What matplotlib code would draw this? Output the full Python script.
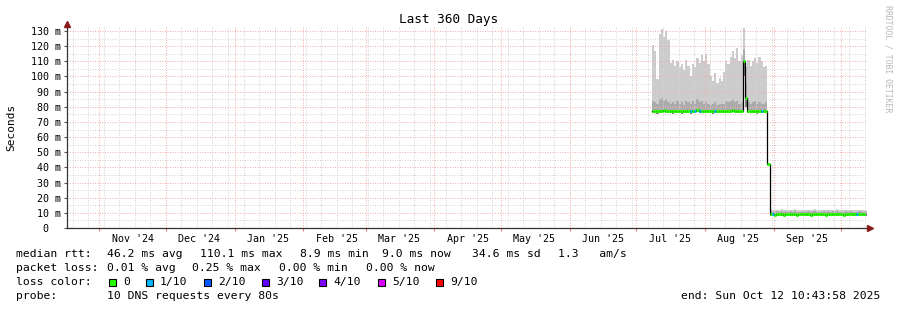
import numpy as np
import pandas as pd
import matplotlib
matplotlib.use('Agg')
import matplotlib.pyplot as plt
import matplotlib.dates as mdates
from matplotlib.patches import Rectangle

plt.rcParams['font.family'] = ['DejaVu Sans Mono', 'DejaVu Sans']

W, H = 897, 310

# --- data ---
t_start = pd.Timestamp('2024-10-17 10:43:58')
t_end = pd.Timestamp('2025-10-12 10:43:58')
days = pd.date_range('2025-07-08', '2025-10-12', freq='D')  # one sample per day

# Jul 8 - Aug 28 (around 77 ms)
hi_a = [121, 117, 98, 128, 131, 126, 130, 124,
        109, 111, 107, 110, 106, 108, 104, 111,
        107, 100, 108, 106, 112, 109, 114, 110,
        115, 108, 100, 97, 102, 96, 99, 97,
        103, 110, 108, 113, 117, 112, 119, 110,
        114, 132, 106, 111, 107, 110, 112, 109,
        113, 110, 106, 107]
q_a = [84, 83, 82, 85, 86, 84, 85, 83,
       82, 83, 82, 84, 82, 83, 81, 84,
       83, 82, 84, 82, 85, 83, 84, 82,
       83, 82, 81, 82, 83, 81, 82, 82,
       82, 84, 83, 84, 85, 83, 84, 82,
       83, 118, 96, 83, 82, 83, 84, 82,
       83, 82, 82, 83]
med_a = [77.5, 77.5, 77.0, 77.5, 77.5, 78.0, 77.5, 77.5,
         77.5, 77.0, 77.5, 77.5, 77.5, 77.0, 77.5, 77.5,
         77.5, 77.0, 77.5, 77.5, 78.0, 77.5, 77.5, 77.5,
         77.5, 77.5, 77.5, 77.0, 77.5, 77.5, 77.5, 77.5,
         77.5, 77.5, 77.5, 77.5, 78.0, 77.5, 77.5, 77.5,
         77.5, 110.0, 86.0, 77.5, 77.5, 77.5, 77.5, 77.0,
         77.5, 77.5, 77.5, 77.5]
lo_a = [76.0, 76.0, 75.5, 76.0, 76.0, 76.5, 76.0, 76.0,
        76.0, 75.5, 76.0, 76.0, 76.0, 75.5, 76.0, 76.0,
        76.0, 75.5, 76.0, 76.0, 76.5, 76.0, 76.0, 76.0,
        76.0, 76.0, 76.0, 75.5, 76.0, 76.0, 76.0, 76.0,
        76.0, 76.0, 76.0, 76.0, 76.5, 76.0, 76.0, 76.0,
        76.0, 100.0, 80.0, 76.0, 76.0, 76.0, 76.0, 75.5,
        76.0, 76.0, 76.0, 76.0]
loss_a = [0, 0, 0, 0, 0, 0, 0, 0,
          0, 0, 0, 0, 0, 0, 0, 0,
          0, 1, 0, 1, 0, 1, 0, 0,
          0, 0, 0, 0, 1, 0, 0, 0,
          0, 0, 0, 0, 0, 0, 0, 0,
          0, 0, 0, 0, 0, 0, 0, 0,
          0, 1, 0, 0]

# Aug 29: the drop
hi_b = [42.0]
q_b = [42.0]
med_b = [42.0]
lo_b = [42.0]
loss_b = [0]

# Aug 30 - Oct 12 (around 9 ms)
hi_c = [12.5, 12.0, 11.8, 12.2, 11.9, 12.4, 11.7, 12.0,
        11.8, 12.1, 11.9, 12.3, 11.6, 12.0, 11.8, 12.2,
        11.9, 12.0, 11.7, 12.1, 12.3, 11.8, 12.0, 11.9,
        12.2, 11.7, 12.0, 11.8, 12.1, 11.9, 12.4, 11.8,
        12.0, 11.7, 12.1, 11.9, 12.2, 11.8, 12.0, 11.9,
        12.1, 11.8, 12.0, 11.9]
q_c = [11.0, 10.8, 10.7, 11.0, 10.8, 11.1, 10.6, 10.9,
       10.7, 10.9, 10.8, 11.0, 10.6, 10.8, 10.7, 11.0,
       10.8, 10.9, 10.6, 10.9, 11.0, 10.7, 10.8, 10.8,
       11.0, 10.6, 10.9, 10.7, 10.9, 10.8, 11.1, 10.7,
       10.8, 10.6, 10.9, 10.8, 11.0, 10.7, 10.8, 10.8,
       10.9, 10.7, 10.8, 10.8]
med_c = [9.0, 9.0, 8.9, 9.1, 9.0, 9.1, 8.9, 9.0,
         9.0, 9.1, 9.0, 9.1, 8.9, 9.0, 9.0, 9.1,
         9.0, 9.0, 8.9, 9.0, 9.1, 9.0, 9.0, 9.0,
         9.1, 8.9, 9.0, 9.0, 9.1, 9.0, 9.1, 9.0,
         9.0, 8.9, 9.0, 9.0, 9.1, 9.0, 9.0, 9.0,
         9.0, 9.0, 9.0, 9.0]
lo_c = [7.8, 7.9, 7.8, 8.0, 7.9, 8.0, 7.8, 7.9,
        7.9, 8.0, 7.9, 8.0, 7.8, 7.9, 7.9, 8.0,
        7.9, 7.9, 7.8, 7.9, 8.0, 7.9, 7.9, 7.9,
        8.0, 7.8, 7.9, 7.9, 8.0, 7.9, 8.0, 7.9,
        7.9, 7.8, 7.9, 7.9, 8.0, 7.9, 7.9, 7.9,
        7.9, 7.9, 7.9, 7.9]
loss_c = [0, 1, 0, 0, 0, 0, 0, 0,
          0, 0, 0, 0, 0, 0, 0, 0,
          0, 0, 0, 0, 0, 0, 0, 0,
          0, 0, 0, 0, 0, 0, 0, 0,
          0, 0, 0, 0, 0, 0, 0, 1,
          0, 0, 0, 0]

month_starts = pd.date_range('2024-11-01', '2025-10-01', freq='MS')
month_labels = ["Nov '24", "Dec '24", "Jan '25", "Feb '25", "Mar '25", "Apr '25",
                "May '25", "Jun '25", "Jul '25", "Aug '25", "Sep '25"]
y_ticks = [0, 10, 20, 30, 40, 50, 60, 70, 80, 90, 100, 110, 120, 130]
y_labels = ['0  '] + [f'{v} m' for v in y_ticks[1:]]

loss_tenths = [0, 1, 2, 3, 4, 5, 9]
loss_names = ['0', '1/10', '2/10', '3/10', '4/10', '5/10', '9/10']
loss_colors = ['#26ff00', '#00b8ff', '#0059ff', '#5e00ff', '#7e00ff', '#dd00ff', '#ff0000']

stats_rtt = ['46.2 ms avg', '110.1 ms max', '8.9 ms min', '9.0 ms now', '34.6 ms sd', '1.3   am/s']
stats_loss = ['0.01 % avg', '0.25 % max', '0.00 % min', '0.00 % now']

# --- arrays ---
hi = np.array(hi_a + hi_b + hi_c)
q = np.array(q_a + q_b + q_c)
med = np.array(med_a + med_b + med_c)
lo = np.array(lo_a + lo_b + lo_c)
loss = loss_a + loss_b + loss_c
color_of = dict(zip(loss_tenths, loss_colors))

x0 = mdates.date2num(days.to_pydatetime())
x1 = x0 + 1
xe = np.append(x0, x1[-1])


def ext(a):
    return np.append(a, a[-1])


fig = plt.figure(figsize=(W / 100, H / 100), dpi=100)
ax = fig.add_axes([67 / W, (H - 228) / H, (866 - 67) / W, (228 - 26) / H])

# smoke
ax.fill_between(xe, ext(lo), ext(hi), step='post', color='#cccccc', lw=0, zorder=1)
ax.fill_between(xe, ext(lo), ext(q), step='post', color='#ababab', lw=0, zorder=1.1)
ax.fill_between(xe, ext(lo), ext(med), step='post', color='#828282', lw=0, zorder=1.2)

# grid (rrdtool draws it over the smoke)
grey = '#d4d4d4'
red = '#f4b0b0'
dots = (0, (1, 1.5))
for w in pd.date_range('2024-10-20', t_end, freq='7D'):
    ax.axvline(mdates.date2num(w), color=grey, lw=0.72, ls=dots, zorder=2)
for v in range(5, 135, 10):
    ax.axhline(v, color=grey, lw=0.72, ls=dots, zorder=2)
for m in month_starts:
    ax.axvline(mdates.date2num(m), color=red, lw=0.72, ls=dots, zorder=2.1)
for v in y_ticks[1:]:
    ax.axhline(v, color=red, lw=0.72, ls=dots, zorder=2.1)

# median, coloured by loss
ax.step(xe, ext(med), where='post', color='black', lw=0.9, zorder=3)
ax.hlines(med, x0, x1, colors=[color_of[l] for l in loss], lw=2.2, zorder=4)

ax.set_xlim(mdates.date2num(t_start), mdates.date2num(t_end))
ax.set_ylim(0, 133.3)

ax.set_yticks(y_ticks)
ax.set_yticklabels(y_labels)
ax.tick_params(axis='y', length=2.5, width=0.8, pad=2.0, labelsize=7.2, color='#555555')

label_pos = [mdates.date2num(m + pd.Timedelta(days=15)) for m in month_starts[:-1]]
ax.set_xticks(label_pos)
ax.set_xticklabels(month_labels)
ax.set_xticks([mdates.date2num(m) for m in month_starts], minor=True)
ax.tick_params(axis='x', which='major', length=0, pad=4.5, labelsize=7.2)
ax.tick_params(axis='x', which='minor', length=2.5, width=0.8, color='#e08080')
ax.tick_params(axis='y', which='minor', length=0)

for s in ['top', 'right']:
    ax.spines[s].set_visible(False)
for s in ['left', 'bottom']:
    ax.spines[s].set_color('#333333')
    ax.spines[s].set_linewidth(0.9)
    ax.spines[s].set_zorder(5)

# axis arrows
ax.plot(0, 1 + 2 / 202, marker='^', ms=4.5, color='#8b1a1a', mec='#8b1a1a',
        transform=ax.transAxes, clip_on=False, zorder=6)
ax.plot(1 + 4 / 799, 0, marker='>', ms=4.5, color='#8b1a1a', mec='#8b1a1a',
        transform=ax.transAxes, clip_on=False, zorder=6)


def fx(x):
    return x / W


def fy(y):
    return 1 - y / H


fig.text(0.5, fy(19), 'Last 360 Days', ha='center', va='center', fontsize=9.2)
fig.text(fx(11), fy(127), 'Seconds', rotation=90, ha='center', va='center', fontsize=8)
fig.text(fx(888), fy(59), 'RRDTOOL / TOBI OETIKER', rotation=270, ha='center', va='center',
         fontsize=5.9, color='#b8b8b8')

fs = 8.2
# line 1
fig.text(fx(16), fy(254), 'median rtt:', va='center', fontsize=fs)
for x, s in zip([107, 200, 300, 382, 472, 558], stats_rtt):
    fig.text(fx(x), fy(254), s, va='center', fontsize=fs)
# line 2
fig.text(fx(16), fy(268), 'packet loss:', va='center', fontsize=fs)
for x, s in zip([107, 192, 279, 366], stats_loss):
    fig.text(fx(x), fy(268), s, va='center', fontsize=fs)
# line 3
fig.text(fx(16), fy(282), 'loss color:', va='center', fontsize=fs)
for x, name, c in zip([109, 146, 204, 262, 319, 378, 436], loss_names, loss_colors):
    fig.patches.append(Rectangle((fx(x), fy(285.5)), 7 / W, 7 / H, transform=fig.transFigure,
                                 facecolor=c, edgecolor='black', lw=0.8))
    fig.text(fx(x + 14), fy(282), name, va='center', fontsize=fs)
# line 4
fig.text(fx(16), fy(296), 'probe:', va='center', fontsize=fs)
fig.text(fx(107), fy(296), '10 DNS requests every 80s', va='center', fontsize=fs)
fig.text(fx(880), fy(296), 'end: Sun Oct 12 10:43:58 2025', ha='right', va='center', fontsize=fs)

fig.savefig('out.png', dpi=100)
